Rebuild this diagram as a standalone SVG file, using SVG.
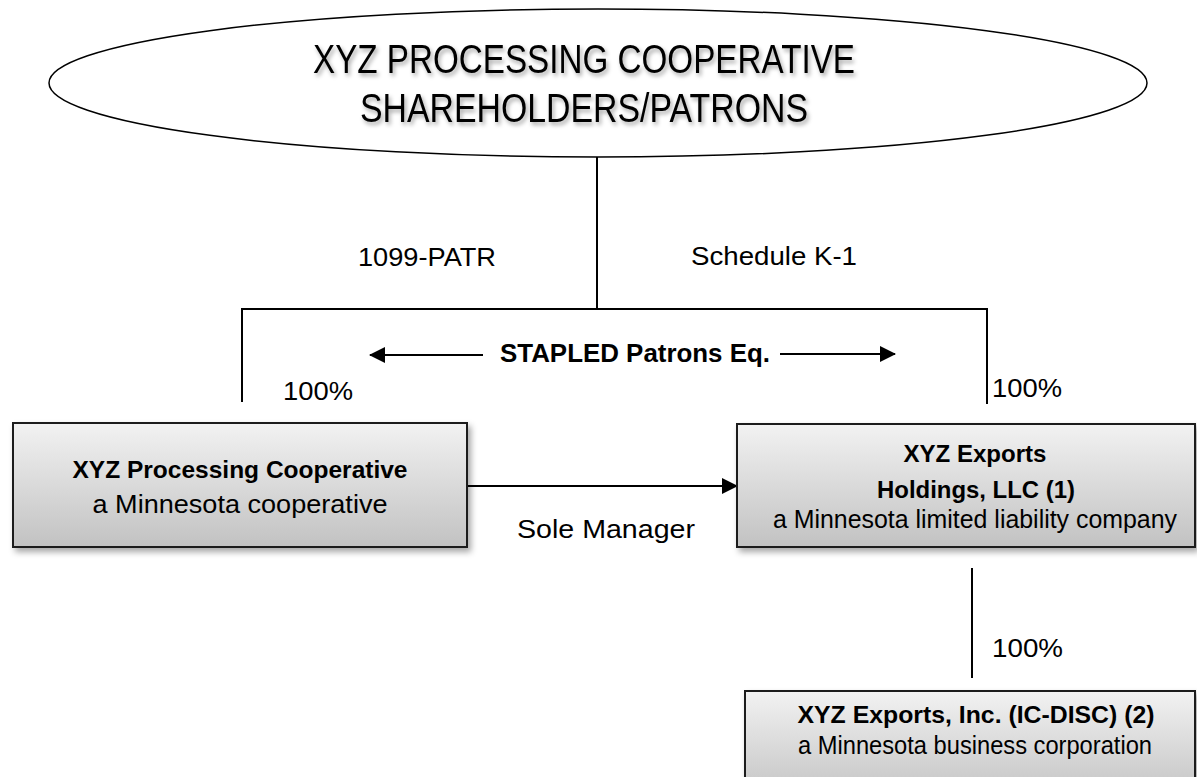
<svg xmlns="http://www.w3.org/2000/svg" width="1197" height="777" viewBox="0 0 1197 777">
<style>
text{font-family:"Liberation Sans",Arial,sans-serif;fill:#000;}
.t{font-size:40px;}
.lbl{font-size:26px;}
.b{font-size:24px;font-weight:bold;}
.r{font-size:25px;}
.box{fill:url(#g);stroke:#1a1a1a;stroke-width:2;filter:url(#sh);}
.ln{stroke:#000;stroke-width:2;fill:none;}
</style>
<defs>
<linearGradient id="g" x1="0" y1="0" x2="0" y2="1">
<stop offset="0" stop-color="#f2f2f2"/>
<stop offset="1" stop-color="#c2c2c2"/>
</linearGradient>
<filter id="sh" x="-5%" y="-10%" width="115%" height="130%">
<feDropShadow dx="3" dy="4" stdDeviation="3" flood-color="#000" flood-opacity="0.35"/>
</filter>
<filter id="ts" x="-5%" y="-20%" width="110%" height="150%">
<feDropShadow dx="2" dy="3" stdDeviation="2" flood-color="#000" flood-opacity="0.35"/>
</filter>
<marker id="ah" markerWidth="16" markerHeight="16" viewBox="0 0 16 16" refX="15" refY="8" orient="auto" markerUnits="userSpaceOnUse">
<path d="M0,0 L16,8 L0,16 Z" fill="#000"/>
</marker>
</defs>
<g id="shareholders">
<ellipse cx="598" cy="83" rx="549" ry="74" fill="#fff" stroke="#000" stroke-width="1.5"/>
<g filter="url(#ts)">
<text class="t" x="584" y="73" text-anchor="middle" textLength="542" lengthAdjust="spacingAndGlyphs">XYZ PROCESSING COOPERATIVE</text>
<text class="t" x="584" y="122" text-anchor="middle" textLength="448" lengthAdjust="spacingAndGlyphs">SHAREHOLDERS/PATRONS</text>
</g>
</g>
<g id="connectors">
<line class="ln" x1="597" y1="157" x2="597" y2="310"/>
<polyline class="ln" points="242,402 242,309 987,309 987,404"/>
<line class="ln" x1="483" y1="355" x2="370" y2="355" marker-end="url(#ah)"/>
<line class="ln" x1="780" y1="354" x2="895" y2="354" marker-end="url(#ah)"/>
<line class="ln" x1="467" y1="486" x2="737" y2="486" marker-end="url(#ah)"/>
<line class="ln" x1="972" y1="568" x2="972" y2="678"/>
<text class="lbl" x="427" y="266" text-anchor="middle" textLength="138" lengthAdjust="spacingAndGlyphs">1099-PATR</text>
<text class="lbl" x="774" y="265" text-anchor="middle" textLength="166" lengthAdjust="spacingAndGlyphs">Schedule K-1</text>
<text class="lbl" x="635" y="362" text-anchor="middle" font-weight="bold" textLength="270" lengthAdjust="spacingAndGlyphs">STAPLED Patrons Eq.</text>
<text class="lbl" x="283" y="400" textLength="70" lengthAdjust="spacingAndGlyphs">100%</text>
<text class="lbl" x="992" y="397" textLength="70" lengthAdjust="spacingAndGlyphs">100%</text>
<text class="lbl" x="606" y="538" text-anchor="middle" textLength="178" lengthAdjust="spacingAndGlyphs">Sole Manager</text>
<text class="lbl" x="992" y="657" textLength="71" lengthAdjust="spacingAndGlyphs">100%</text>
</g>
<g id="cooperative">
<rect class="box" x="13" y="423" width="454" height="124"/>
<text class="b" x="240" y="478" text-anchor="middle" textLength="335" lengthAdjust="spacingAndGlyphs">XYZ Processing Cooperative</text>
<text class="r" x="240" y="513" text-anchor="middle" textLength="295" lengthAdjust="spacingAndGlyphs">a Minnesota cooperative</text>
</g>
<g id="holdings">
<rect class="box" x="737" y="424" width="458" height="123"/>
<text class="b" x="975" y="462" text-anchor="middle" textLength="143" lengthAdjust="spacingAndGlyphs">XYZ Exports</text>
<text class="b" x="976" y="498" text-anchor="middle" textLength="198" lengthAdjust="spacingAndGlyphs">Holdings, LLC (1)</text>
<text class="r" x="975" y="528" text-anchor="middle" textLength="404" lengthAdjust="spacingAndGlyphs">a Minnesota limited liability company</text>
</g>
<g id="icdisc">
<rect class="box" x="745" y="691" width="450" height="110"/>
<text class="b" x="976" y="723" text-anchor="middle" textLength="357" lengthAdjust="spacingAndGlyphs">XYZ Exports, Inc. (IC-DISC) (2)</text>
<text class="r" x="975" y="754" text-anchor="middle" textLength="354" lengthAdjust="spacingAndGlyphs">a Minnesota business corporation</text>
</g>
</svg>
